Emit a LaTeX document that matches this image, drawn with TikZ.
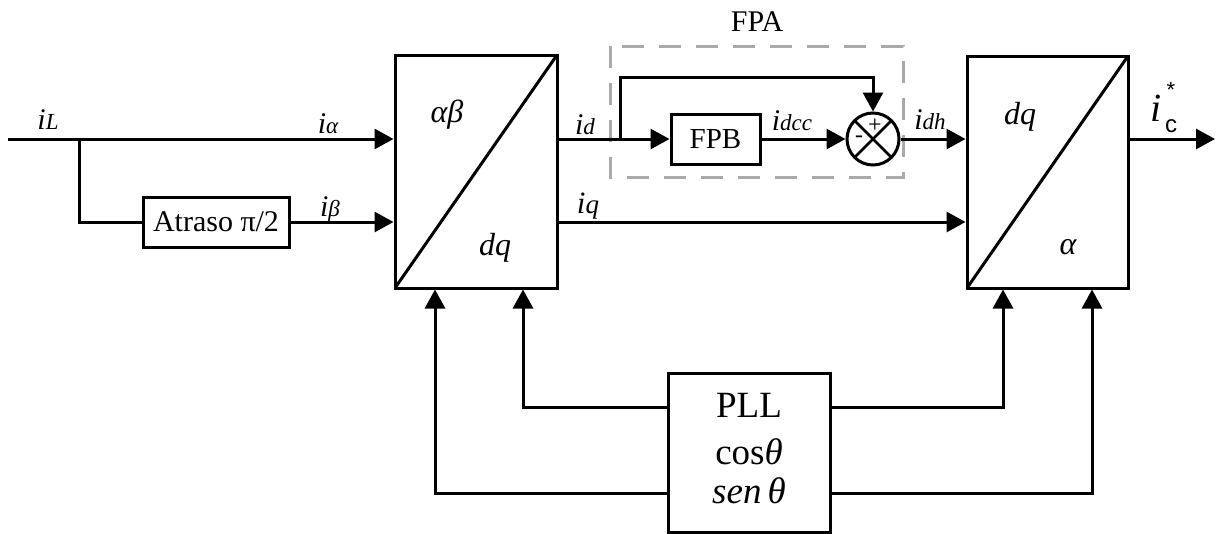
\documentclass[tikz,border=0pt]{standalone}
\usepackage{fontspec}
\setmainfont{Liberation Serif}
\setsansfont{Liberation Sans}
\usetikzlibrary{arrows.meta}
\definecolor{dashgray}{RGB}{170,170,170}
\newcommand\fsz[1]{\fontsize{#1}{#1}\selectfont}
\newcommand\sigl[1]{{\fsz{30}\itshape i}{\fsz{23}\itshape #1}}
\begin{document}
\begin{tikzpicture}[x=1pt,y=-1pt,
  wire/.style={line width=3pt},
  conn/.style={line width=3pt,-{Triangle[length=19pt,width=20pt]}},
  blk/.style={draw,line width=3pt,inner sep=0pt},
  lbl/.style={inner sep=0pt,anchor=base},
  big/.style={font=\fsz{32}\itshape,inner sep=0pt}
]
\useasboundingbox (0,0) rectangle (1217,533);

% blocks
\node[blk,minimum width=162pt,minimum height=233pt] (conv1) at (476,171.5) {};
\node[blk,minimum width=161pt,minimum height=232pt] (conv2) at (1047.5,172) {};
\node[blk,minimum width=146pt,minimum height=50pt,font=\fsz{30}] (atraso) at (216,222) {Atraso π/2};
\node[blk,minimum width=89pt,minimum height=50pt,font=\fsz{29}] (fpb) at (715.5,139) {FPB};
\node[blk,minimum width=162pt,minimum height=159pt] (pll) at (749,452.5) {};
\node[draw,circle,line width=3pt,minimum size=52pt,inner sep=0pt] (sum) at (873,139) {};

% diagonals
\draw[wire] (395,288) -- (557,55);
\draw[wire] (967,288) -- (1128,56);
\draw[line width=2.5pt] (sum.center) +(135:25) -- +(-45:25);
\draw[line width=2.5pt] (sum.center) +(45:25) -- +(-135:25);

% FPA dashed box
\draw[dashgray,line width=3pt,dash pattern=on 22pt off 15pt] (610,46) rectangle (903,177);
\node[inner sep=0pt,font=\fsz{30}] (fpa) at (757,22) {FPA};

% block texts
\node[big] (ab) at (447,115) {αβ};
\node[big] (dq1) at (495,248) {dq};
\node[big] (dq2) at (1020,117) {dq};
\node[big] (al2) at (1068,247) {α};
\node[lbl,font=\fsz{37}] (pllt) at (749,417) {PLL};
\node[lbl,font=\fsz{37}] (cost) at (749,464) {cos\textit{θ}};
\node[lbl,font=\fsz{37}\itshape] (sent) at (749,503) {sen\,θ};
\node[inner sep=0pt,font=\fsz{24}] (plus) at (875,126) {+};
\node[inner sep=0pt,font=\fsz{24}] (minus) at (859,139) {-};

% coordinates
\coordinate (iLs) at (8,139);
\coordinate (br) at (79,139);
\coordinate (idb) at (620,139);
\coordinate (fbtop) at (0,77);
\coordinate (out) at (1215,139);
\coordinate (cy) at (0,407);
\coordinate (sy) at (0,493);
\coordinate (xa) at (435,0);
\coordinate (xb) at (523,0);
\coordinate (xc) at (1003,0);
\coordinate (xd) at (1092,0);

% connectors
\draw[conn] (iLs) -- (iLs -| conv1.west);
\draw[wire] (br) |- (atraso.west);
\draw[conn] (atraso.east) -- (atraso.east -| conv1.west);
\draw[wire] (idb -| conv1.east) -- (idb);
\draw[conn] (idb) -- (fpb.west);
\draw[conn] (idb) -- (idb |- fbtop) -| (sum.north);
\draw[conn] (fpb.east) -- (sum.west);
\draw[conn] (sum.east) -- (sum.east -| conv2.west);
\draw[conn] (atraso -| conv1.east) -- (atraso -| conv2.west);
\draw[conn] (sum -| conv2.east) -- (out);
\draw[conn] (pll.west |- cy) -| (conv1.south -| xb);
\draw[conn] (pll.west |- sy) -| (conv1.south -| xa);
\draw[conn] (pll.east |- cy) -| (conv2.south -| xc);
\draw[conn] (pll.east |- sy) -| (conv2.south -| xd);

% signal labels
\node[lbl] (liL) at (48,129) {\sigl{L}};
\node[lbl] (lia) at (328,133) {\sigl{α}};
\node[lbl] (lib) at (330,216) {\sigl{β}};
\node[lbl] (lid) at (585,134) {\sigl{d}};
\node[lbl] (lidcc) at (792,130) {\sigl{dcc}};
\node[lbl] (lidh) at (930,129) {\sigl{dh}};
\node[lbl] (liq) at (588,213) {{\fsz{31}\itshape i}{\fsz{27}\itshape q}};
\node[inner sep=0pt,font=\fsz{40}\itshape] (ici) at (1156,108) {i};
\node[inner sep=0pt,font=\fsz{24}\sffamily] (icc) at (1171,126) {c};
\node[inner sep=0pt,font=\fsz{22}\sffamily] (ics) at (1171,90) {*};
\end{tikzpicture}
\end{document}
